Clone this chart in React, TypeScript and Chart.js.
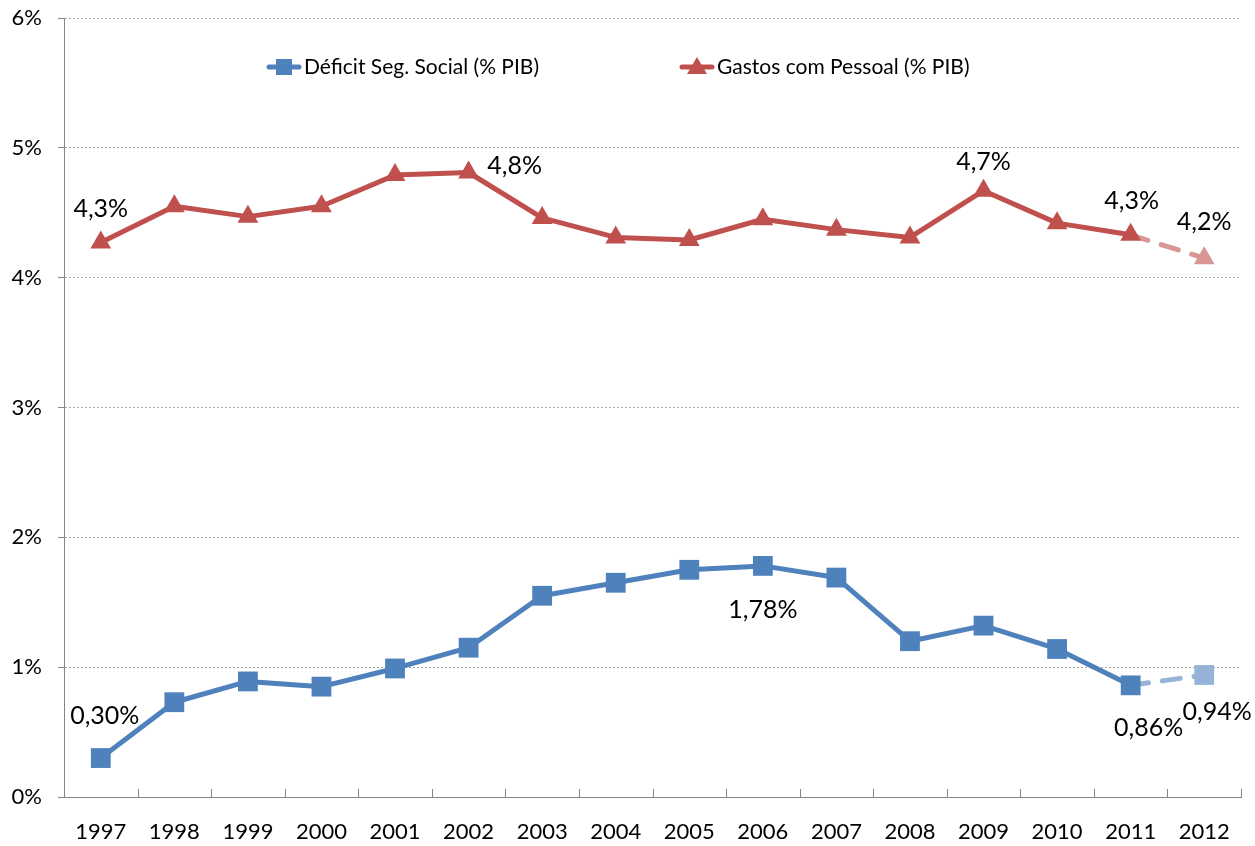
import React, { useEffect, useRef } from "react";
import { Chart, registerables } from "chart.js";

Chart.register(...registerables);

const years = ["1997", "1998", "1999", "2000", "2001", "2002", "2003", "2004", "2005", "2006", "2007", "2008", "2009", "2010", "2011", "2012"];
const deficit = [0.30, 0.73, 0.89, 0.85, 0.99, 1.15, 1.55, 1.65, 1.75, 1.78, 1.69, 1.20, 1.32, 1.14, 0.86, 0.94];
const gastos = [4.27, 4.55, 4.47, 4.55, 4.79, 4.81, 4.46, 4.31, 4.29, 4.45, 4.37, 4.31, 4.67, 4.42, 4.33, 4.15];
const yTicks = [0, 1, 2, 3, 4, 5, 6];
const seriesNames = ["Déficit Seg. Social (% PIB)", "Gastos com Pessoal (% PIB)"];
const deficitLabels: (string | null)[] = ["0,30%", null, null, null, null, null, null, null, null, "1,78%", null, null, null, null, "0,86%", "0,94%"];
const gastosLabels: (string | null)[] = ["4,3%", null, null, null, null, "4,8%", null, null, null, null, null, null, "4,7%", null, "4,3%", "4,2%"];

// styling (not data)
const FONT = 'Lato, "DejaVu Sans Condensed", sans-serif';
const BLUE = "#4F81BD";
const BLUE_LIGHT = "#95B3D7";
const RED = "#C0504D";
const RED_LIGHT = "#D99694";
const LAST = years.length - 1;
const deficitLabelOffsets: [number, number][] = [[4, -42], [0, 0], [0, 0], [0, 0], [0, 0], [0, 0], [0, 0], [0, 0], [0, 0], [0, 44], [0, 0], [0, 0], [0, 0], [0, 0], [18, 43], [13, 37]];
const gastosLabelOffsets: [number, number][] = [[0, -34], [0, 0], [0, 0], [0, 0], [0, 0], [46, -7], [0, 0], [0, 0], [0, 0], [0, 0], [0, 0], [0, 0], [0, -29], [0, 0], [1, -34], [0, -36]];
const legendLayout = [
  { x: 284, y: 67, color: BLUE, shape: "square" },
  { x: 697, y: 67, color: RED, shape: "triangle" },
];

const labelsPlugin = {
  id: "valueLabels",
  afterDatasetsDraw(chart: any) {
    const ctx = chart.ctx;
    ctx.save();
    ctx.font = `25px ${FONT}`;
    ctx.fillStyle = "#000";
    ctx.textAlign = "center";
    ctx.textBaseline = "middle";
    const sets = [
      { idx: 0, labels: deficitLabels, offs: deficitLabelOffsets },
      { idx: 1, labels: gastosLabels, offs: gastosLabelOffsets },
    ];
    sets.forEach(({ idx, labels, offs }) => {
      const meta = chart.getDatasetMeta(idx);
      labels.forEach((t, i) => {
        if (!t) return;
        const p = meta.data[i];
        ctx.fillText(t, p.x + offs[i][0], p.y + offs[i][1]);
      });
    });
    ctx.restore();
  },
};

const ticksPlugin = {
  id: "innerTicks",
  afterDraw(chart: any) {
    const ctx = chart.ctx;
    const xs = chart.scales.x;
    const bottom = chart.chartArea.bottom;
    const step = xs.getPixelForValue(1) - xs.getPixelForValue(0);
    ctx.save();
    ctx.strokeStyle = "#868686";
    ctx.lineWidth = 1;
    for (let i = 1; i <= years.length; i++) {
      const x = Math.round(xs.getPixelForValue(i) - step / 2) + 0.5;
      ctx.beginPath();
      ctx.moveTo(x, bottom);
      ctx.lineTo(x, bottom - 8);
      ctx.stroke();
    }
    ctx.restore();
  },
};

const legendPlugin = {
  id: "innerLegend",
  afterDraw(chart: any) {
    const ctx = chart.ctx;
    ctx.save();
    legendLayout.forEach((l, i) => {
      ctx.strokeStyle = l.color;
      ctx.fillStyle = l.color;
      ctx.lineWidth = 5;
      ctx.lineCap = "round";
      ctx.beginPath();
      ctx.moveTo(l.x - 15, l.y);
      ctx.lineTo(l.x + 15, l.y);
      ctx.stroke();
      if (l.shape === "square") {
        ctx.fillRect(l.x - 8, l.y - 8, 16, 16);
      } else {
        ctx.beginPath();
        ctx.moveTo(l.x, l.y - 10);
        ctx.lineTo(l.x + 10, l.y + 7);
        ctx.lineTo(l.x - 10, l.y + 7);
        ctx.closePath();
        ctx.fill();
      }
      ctx.fillStyle = "#000";
      ctx.font = `21px ${FONT}`;
      ctx.textAlign = "left";
      ctx.textBaseline = "middle";
      ctx.fillText(seriesNames[i], l.x + 20, l.y);
    });
    ctx.restore();
  },
};

export default function App() {
  const ref = useRef<HTMLCanvasElement>(null);
  useEffect(() => {
    document.body.style.margin = "0";
    const seg = (base: string, light: string) => ({
      borderColor: (c: any) => (c.p1DataIndex === LAST ? light : base),
      borderDash: (c: any) => (c.p1DataIndex === LAST ? [18, 14] : undefined),
    });
    const ptColors = (base: string, light: string) => years.map((_, i) => (i === LAST ? light : base));
    const chart = new Chart(ref.current!, {
      type: "line",
      data: {
        labels: years,
        datasets: [
          {
            label: seriesNames[0],
            data: deficit,
            borderColor: BLUE,
            borderWidth: 5,
            borderCapStyle: "round",
            borderJoinStyle: "round",
            pointStyle: "rect",
            pointRadius: 14,
            pointBackgroundColor: ptColors(BLUE, BLUE_LIGHT),
            pointBorderColor: ptColors(BLUE, BLUE_LIGHT),
            pointBorderWidth: 0,
            segment: seg(BLUE, BLUE_LIGHT),
            tension: 0,
          },
          {
            label: seriesNames[1],
            data: gastos,
            borderColor: RED,
            borderWidth: 5,
            borderCapStyle: "round",
            borderJoinStyle: "round",
            pointStyle: "triangle",
            pointRadius: 12,
            pointBackgroundColor: ptColors(RED, RED_LIGHT),
            pointBorderColor: ptColors(RED, RED_LIGHT),
            pointBorderWidth: 0,
            segment: seg(RED, RED_LIGHT),
            tension: 0,
          },
        ],
      },
      options: {
        responsive: false,
        animation: false,
        layout: { padding: { top: 18, right: 12, left: 0, bottom: 0 } },
        plugins: { legend: { display: false }, tooltip: { enabled: false } },
        scales: {
          x: {
            offset: true,
            grid: { display: true, drawOnChartArea: false, drawTicks: false, offset: true, color: "#868686" },
            border: { color: "#868686", width: 1 },
            ticks: { color: "#000", font: { family: FONT, size: 22 }, padding: 22, maxRotation: 0, autoSkip: false },
            afterFit: (s: any) => { s.height = 49; s.paddingLeft = 0; s.paddingRight = 0; },
          },
          y: {
            min: yTicks[0],
            max: yTicks[yTicks.length - 1],
            afterBuildTicks: (s: any) => { s.ticks = yTicks.map((v) => ({ value: v })); },
            grid: { color: "#a6a6a6", lineWidth: 1, tickLength: 6, tickColor: "#868686" },
            border: { color: "#868686", width: 1, dash: [2, 2] },
            ticks: { color: "#000", font: { family: FONT, size: 22 }, padding: 16, callback: (v: any) => `${v}%` },
            afterFit: (s: any) => { s.width = 64; s.paddingTop = 0; s.paddingBottom = 0; },
          },
        },
      },
      plugins: [ticksPlugin, labelsPlugin, legendPlugin],
    });
    return () => chart.destroy();
  }, []);
  return (
    <div style={{ position: "absolute", left: 0, top: 0, width: 1255, height: 846 }}>
      <canvas ref={ref} width={1255} height={846} />
    </div>
  );
}
